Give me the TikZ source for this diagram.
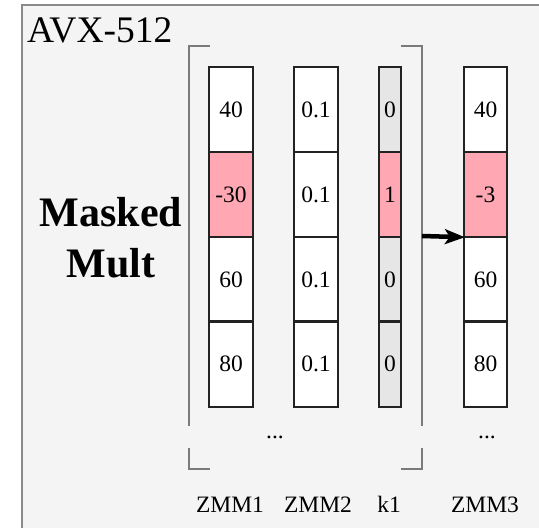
\documentclass[tikz,border=0pt]{standalone}
\usepackage{fontspec}
\setmainfont{Liberation Serif}
\usetikzlibrary{arrows.meta}
\definecolor{bgpanel}{HTML}{F4F4F4}
\definecolor{framegray}{HTML}{8A8A8A}
\definecolor{brackgray}{HTML}{7A7A7A}
\definecolor{cellpink}{HTML}{FFA8B4}
\definecolor{maskgray}{HTML}{E6E6E6}
\definecolor{celledge}{HTML}{222222}
\tikzset{
  cellbox/.style={fill=white, minimum height=85pt, inner sep=0pt, font=\fontsize{23.5}{26}\selectfont},
  widecell/.style={cellbox, minimum width=43pt},
  narrowcell/.style={cellbox, minimum width=22pt},
  hot/.style={fill=cellpink},
  masked/.style={fill=maskgray},
  celledgeline/.style={draw=celledge, line width=1.8pt},
  brack/.style={draw=brackgray, line width=1.3pt},
  lbl/.style={font=\fontsize{23.5}{26}\selectfont, anchor=base, inner sep=0pt},
}
\begin{document}
\begin{tikzpicture}[x=1pt,y=-1pt]
\useasboundingbox (0,0) rectangle (539,528);
% panel
\fill[bgpanel] (22,5) rectangle (545,535);
\draw[framegray, line width=2pt] (22,540) -- (22,5) -- (545,5);
% title
\node[anchor=base west, inner sep=0pt, font=\fontsize{37.5}{40}\selectfont] (title) at (27,42) {AVX-512};
\node[anchor=base, inner sep=0pt, font=\fontsize{42}{45}\selectfont\bfseries] (masked) at (111,226) {Masked};
\node[anchor=base, inner sep=0pt, font=\fontsize{42}{45}\selectfont\bfseries] (mult) at (111,277) {Mult};
% ZMM1
\node[widecell] (z1a) at (231,109.5) {40};
\node[widecell, hot] (z1b) at (231,194.5) {-30};
\node[widecell] (z1c) at (231,279.5) {60};
\node[widecell] (z1d) at (231,364) {80};
% ZMM2
\node[widecell] (z2a) at (316,109.5) {0.1};
\node[widecell] (z2b) at (316,194.5) {0.1};
\node[widecell] (z2c) at (316,279.5) {0.1};
\node[widecell] (z2d) at (316,364) {0.1};
% k1
\node[narrowcell, masked] (k1a) at (390,109.5) {0};
\node[narrowcell, hot] (k1b) at (390,194.5) {1};
\node[narrowcell, masked] (k1c) at (390,279.5) {0};
\node[narrowcell, masked] (k1d) at (390,364) {0};
% ZMM3
\node[widecell] (z3a) at (485.5,109.5) {40};
\node[widecell, hot] (z3b) at (485.5,194.5) {-3};
\node[widecell] (z3c) at (485.5,279.5) {60};
\node[widecell] (z3d) at (485.5,364) {80};
% cell borders on top
\foreach \n in {z1a,z1b,z1c,z1d,z2a,z2b,z2c,z2d,k1a,k1b,k1c,k1d,z3a,z3b,z3c,z3d}
  \draw[celledgeline] (\n.north west) rectangle (\n.south east);
% brackets
\draw[brack] (210,46) -- (189,46) -- (189,426);
\draw[brack] (189,448) -- (189,469) -- (210,469);
\draw[brack] (401,46) -- (422,46) -- (422,426);
\draw[brack] (422,448) -- (422,469) -- (401,469);
% arrow
\coordinate (src) at (422,236);
\draw[line width=4.5pt, -{Stealth[length=20pt,width=15pt,inset=5pt]}, shorten >=-1pt] (src) -- (z3b.south west);
% dots
\node[lbl] (dots1) at (275,438) {...};
\node[lbl] (dots2) at (487,438) {...};
% labels
\node[lbl] (l1) at (230,512) {ZMM1};
\node[lbl] (l2) at (318,512) {ZMM2};
\node[lbl] (l3) at (389,512) {k1};
\node[lbl] (l4) at (485,512) {ZMM3};
\end{tikzpicture}
\end{document}
